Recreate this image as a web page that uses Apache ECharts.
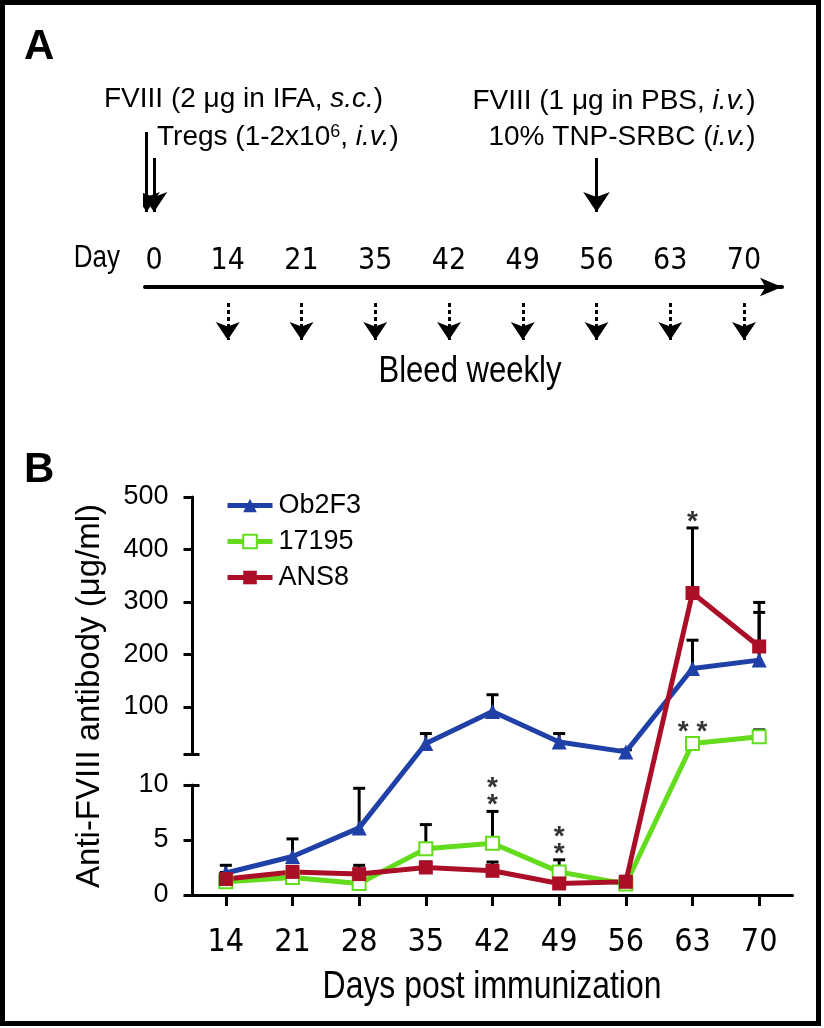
<!DOCTYPE html>
<html>
<head>
<meta charset="utf-8">
<script src="https://cdn.jsdelivr.net/npm/echarts@6/dist/echarts.min.js"></script>
<style>
  html, body { margin: 0; padding: 0; background: #fff; }
  #main { width: 824px; height: 1028px; }
</style>
</head>
<body>
<div id="main"></div>
<script>
// ---- panel A : immunization schedule ----
var timelineDays = ['0', '14', '21', '35', '42', '49', '56', '63', '70'];
var injectAt = [-0.1, 0, 6];          // timeline slot of each injection arrow (two on day 0)
var injectFrom = [155, 129, 129];
var bleedAt = [1, 2, 3, 4, 5, 6, 7, 8];

// ---- panel B : anti-FVIII antibody ----
var days = ['14', '21', '28', '35', '42', '49', '56', '63', '70'];
var ob2f3 = [2.0, 3.5, 6.1, 30, 91, 33, 14, 173, 189];
var ob2f3Err = [0.7, 1.6, 3.6, 19, 32, 16, 4, 54, 110];
var s17195 = [1.2, 1.6, 1.05, 4.2, 4.7, 2.1, 1.0, 30, 43];
var s17195Err = [0.3, 0.3, 0.3, 2.2, 2.9, 1.1, 0.3, 10, 13];
var ans8 = [1.45, 2.1, 1.9, 2.5, 2.2, 1.05, 1.2, 317, 215];
var ans8Err = [0.6, 0.5, 0.8, 0.5, 0.8, 0.4, 0.5, 124, 65];
var sigDay = [4, 5, 7, 7];
var sigVal = [7.6, 3.2, 40, 441];
var sigText = ['*\n*', '*\n*', '* *', '*'];
var topTicks = [100, 200, 300, 400, 500];

var SANS = "'Liberation Sans', Arial, Helvetica, sans-serif";
var NARROW = "'DejaVu Sans Condensed', 'Liberation Sans Narrow', 'Arial Narrow', sans-serif";
var BLUE = '#1f40a6', GREEN = '#62dc1c', RED = '#ab0f27';

// broken y axis: 0-10 uses the lower 110px, 10-500 the upper 257px, 31px gap between
var LOW_H = 110, GAP_H = 31, HIGH_H = 257;
function yv(v) {
  return v <= 10 ? v * LOW_H / 10 : LOW_H + GAP_H + (v - 10) * HIGH_H / 490;
}

function lineSeries(name, vals, color, symbol, size) {
  return {
    name: name, type: 'line', xAxisIndex: 0, yAxisIndex: 0, z: 3,
    data: vals.map(function (v, i) { return [i, yv(v)]; }),
    symbol: symbol, symbolSize: size,
    lineStyle: { color: color, width: 5 },
    itemStyle: { color: color, borderWidth: 3 }
  };
}

function errSeries(vals, errs) {
  return {
    type: 'custom', xAxisIndex: 0, yAxisIndex: 0, z: 2, silent: true,
    data: vals.map(function (v, i) { return [i, yv(v), yv(v + errs[i])]; }),
    renderItem: function (params, api) {
      var p0 = api.coord([api.value(0), api.value(1)]);
      var p1 = api.coord([api.value(0), api.value(2)]);
      var st = { stroke: '#000', lineWidth: 3 };
      return {
        type: 'group', children: [
          { type: 'line', shape: { x1: p0[0], y1: p0[1], x2: p1[0], y2: p1[1] }, style: st },
          { type: 'line', shape: { x1: p1[0] - 6, y1: p1[1], x2: p1[0] + 6, y2: p1[1] }, style: st }
        ]
      };
    }
  };
}

function gapMap(k, color) {
  return {
    show: false, type: 'piecewise', seriesIndex: k, dimension: 1,
    pieces: [
      { gte: 0, lte: LOW_H, color: color },
      { gt: LOW_H, lt: LOW_H + GAP_H, color: 'rgba(0,0,0,0)' },
      { gte: LOW_H + GAP_H, color: color }
    ]
  };
}

function condensed(text, x, y, size, align) {
  return {
    type: 'text', x: x, y: y, scaleX: 0.84,
    style: { text: text, font: size + 'px ' + SANS, fill: '#000', align: align, verticalAlign: 'middle' }
  };
}

var axisBlack = { color: '#000', width: 3 };
var tickFont = { color: '#000', fontSize: 27, fontFamily: SANS };
var richA = {
  n: { fontSize: 28, fontFamily: SANS, fill: '#000' },
  i: { fontSize: 28, fontFamily: SANS, fontStyle: 'italic', fill: '#000' },
  s: { fontSize: 18, fontFamily: SANS, fill: '#000', verticalAlign: 'top' }
};

var chart = echarts.init(document.getElementById('main'));
chart.setOption({
  animation: false,
  backgroundColor: '#fff',
  grid: [
    { left: 192.5, top: 497, width: 600, height: 398 },   // data layer
    { left: 192.5, top: 497, width: 600, height: 257 },   // upper axis piece
    { left: 192.5, top: 785, width: 600, height: 110 },   // lower axis piece
    { left: 145, top: 130, width: 637, height: 215 }      // timeline
  ],
  xAxis: [
    {
      gridIndex: 0, type: 'category', data: days, boundaryGap: true,
      axisLine: { show: true, lineStyle: axisBlack },
      axisTick: { show: true, alignWithLabel: true, length: 11, lineStyle: axisBlack },
      axisLabel: { color: '#000', fontSize: 32, fontFamily: NARROW, margin: 32 }
    },
    { gridIndex: 1, type: 'category', data: days, show: false },
    { gridIndex: 2, type: 'category', data: days, show: false },
    {
      // timeline axis: sits 157px below the grid top (day line at y=287)
      gridIndex: 3, type: 'value', position: 'top', offset: -157, min: -0.122, max: 8.515,
      axisLine: { show: true, onZero: false, symbol: ['none', 'arrow'], symbolSize: [14, 22], lineStyle: { color: '#000', width: 4 } },
      axisTick: { show: false }, splitLine: { show: false },
      axisLabel: {
        margin: 11, color: '#000', fontSize: 30, fontFamily: NARROW,
        customValues: timelineDays.map(function (d, i) { return i; }),
        formatter: function (v) { return timelineDays[Math.round(v)]; }
      }
    }
  ],
  yAxis: [
    {
      gridIndex: 0, type: 'value', min: 0, max: LOW_H + GAP_H + HIGH_H,
      axisLine: { show: false }, axisTick: { show: false }, axisLabel: { show: false }, splitLine: { show: false },
      name: 'Anti-FVIII antibody (μg/ml)', nameLocation: 'middle', nameGap: 86,
      nameTextStyle: { color: '#000', fontSize: 33, fontFamily: SANS }
    },
    {
      gridIndex: 1, type: 'value', position: 'left', min: 10, max: 500,
      axisLine: { show: true, lineStyle: axisBlack }, splitLine: { show: false },
      axisTick: { show: true, length: 9, lineStyle: axisBlack, customValues: [10].concat(topTicks) },
      axisLabel: Object.assign({ margin: 24, customValues: topTicks }, tickFont)
    },
    {
      gridIndex: 1, type: 'value', position: 'left', offset: 0, min: 10, max: 500,
      axisLine: { show: false }, splitLine: { show: false }, axisLabel: { show: false },
      axisTick: { show: true, inside: true, length: 7, lineStyle: axisBlack, customValues: [10] }
    },
    {
      gridIndex: 2, type: 'value', position: 'left', min: 0, max: 10, interval: 5,
      axisLine: { show: true, lineStyle: axisBlack }, splitLine: { show: false },
      axisTick: { show: true, length: 9, lineStyle: axisBlack },
      axisLabel: Object.assign({ margin: 24 }, tickFont)
    },
    {
      gridIndex: 2, type: 'value', position: 'left', offset: 0, min: 0, max: 10,
      axisLine: { show: false }, splitLine: { show: false }, axisLabel: { show: false },
      axisTick: { show: true, inside: true, length: 7, lineStyle: axisBlack, customValues: [10] }
    },
    { gridIndex: 3, type: 'value', min: -58, max: 157, show: false }
  ],
  visualMap: [gapMap(0, BLUE), gapMap(1, GREEN), gapMap(2, RED)],
  legend: {
    data: ['Ob2F3', '17195', 'ANS8'], orient: 'vertical', left: 220, top: 487,
    itemWidth: 45, itemHeight: 17, itemGap: 9,
    lineStyle: { width: 5 },
    textStyle: { color: '#000', fontSize: 27, fontFamily: SANS, padding: [0, 0, 0, 1] }
  },
  series: [
    lineSeries('Ob2F3', ob2f3, BLUE, 'triangle', 15),
    lineSeries('17195', s17195, GREEN, 'emptyRect', 13),
    lineSeries('ANS8', ans8, RED, 'rect', 14),
    errSeries(ob2f3, ob2f3Err),
    errSeries(s17195, s17195Err),
    errSeries(ans8, ans8Err),
    {
      type: 'scatter', xAxisIndex: 0, yAxisIndex: 0, z: 4, silent: true,
      symbolSize: 1, itemStyle: { color: 'rgba(0,0,0,0)' },
      data: sigDay.map(function (d, i) {
        return { value: [d, yv(sigVal[i])], label: { formatter: sigText[i] } };
      }),
      label: {
        show: true, position: 'top', distance: 0, offset: [0, 3], color: '#000',
        fontSize: 28, fontWeight: 'bold', lineHeight: 17, fontFamily: SANS
      }
    },
    {
      type: 'lines', coordinateSystem: 'cartesian2d', xAxisIndex: 3, yAxisIndex: 5, silent: true,
      symbol: ['none', 'arrow'], symbolSize: 20,
      lineStyle: { color: '#000', width: 3, opacity: 1 },
      data: injectAt.map(function (x, i) { return { coords: [[x, injectFrom[i]], [x, 75]] }; })
    },
    {
      type: 'lines', coordinateSystem: 'cartesian2d', xAxisIndex: 3, yAxisIndex: 5, silent: true,
      symbol: ['none', 'arrow'], symbolSize: 18,
      lineStyle: { color: '#000', width: 3, opacity: 1, type: [4, 3] },
      data: bleedAt.map(function (x) { return { coords: [[x, -16], [x, -53]] }; })
    }
  ],
  graphic: [
    { type: 'rect', shape: { x: 2.5, y: 2.5, width: 816, height: 1021 }, style: { fill: 'none', stroke: '#000', lineWidth: 5 }, z: 100 },
    { type: 'text', x: 24, y: 47, style: { text: 'A', font: 'bold 42px ' + SANS, fill: '#000', verticalAlign: 'middle' } },
    { type: 'text', x: 24, y: 470, style: { text: 'B', font: 'bold 42px ' + SANS, fill: '#000', verticalAlign: 'middle' } },
    { type: 'text', x: 104, y: 99, style: { text: '{n|FVIII (2 μg in IFA, }{i|s.c.}{n|)}', verticalAlign: 'middle', rich: richA } },
    { type: 'text', x: 157, y: 137, style: { text: '{n|Tregs (1-2x10}{s|6}{n|, }{i|i.v.}{n|)}', verticalAlign: 'middle', rich: richA } },
    { type: 'text', x: 614, y: 101, style: { text: '{n|FVIII (1 μg in PBS, }{i|i.v.}{n|)}', align: 'center', verticalAlign: 'middle', rich: richA } },
    { type: 'text', x: 622, y: 137, style: { text: '{n|10% TNP-SRBC (}{i|i.v.}{n|)}', align: 'center', verticalAlign: 'middle', rich: richA } },
    condensed('Day', 120, 258, 31, 'right'),
    condensed('Bleed weekly', 470, 372, 37, 'center'),
    condensed('Days post immunization', 492, 988, 38, 'center')
  ]
});
</script>
</body>
</html>
